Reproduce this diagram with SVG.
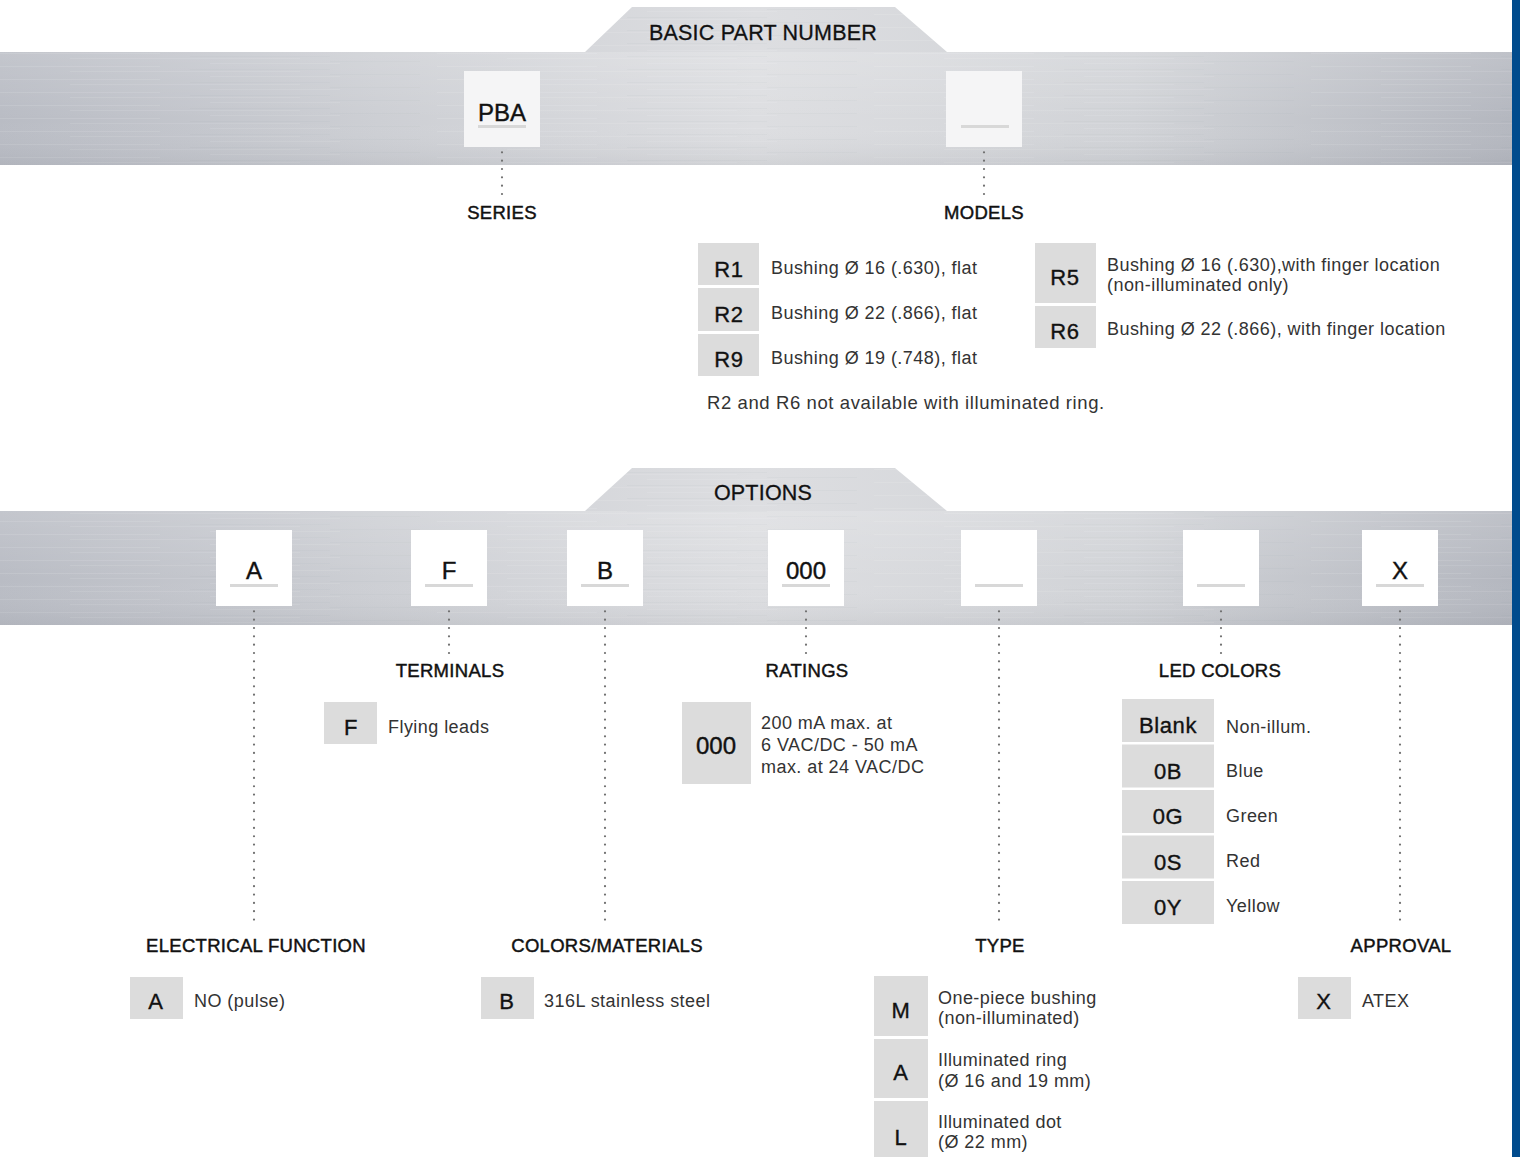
<svg xmlns="http://www.w3.org/2000/svg" width="1520" height="1157" viewBox="0 0 1520 1157">
<defs>
<linearGradient id="metal" gradientUnits="userSpaceOnUse" x1="0" y1="0" x2="1512" y2="0">
<stop offset="0" stop-color="#b9bcc4"/>
<stop offset="0.25" stop-color="#cdcfd4"/>
<stop offset="0.5" stop-color="#dddee1"/>
<stop offset="0.75" stop-color="#d1d3d7"/>
<stop offset="1" stop-color="#b4b7bf"/>
</linearGradient>
<linearGradient id="shadeV" x1="0" y1="0" x2="0" y2="1">
<stop offset="0" stop-color="#ffffff" stop-opacity="0.15"/>
<stop offset="0.6" stop-color="#ffffff" stop-opacity="0"/>
<stop offset="1" stop-color="#6a6e78" stop-opacity="0.10"/>
</linearGradient>
<pattern id="brush" patternUnits="userSpaceOnUse" width="437" height="13">
<rect x="0" y="1" width="160" height="1" fill="#ffffff" opacity="0.10"/>
<rect x="190" y="4" width="140" height="1" fill="#8a8e98" opacity="0.06"/>
<rect x="70" y="6" width="230" height="1" fill="#ffffff" opacity="0.09"/>
<rect x="330" y="9" width="90" height="1" fill="#8a8e98" opacity="0.06"/>
<rect x="210" y="11" width="130" height="1" fill="#ffffff" opacity="0.09"/>
</pattern>
</defs>
<style>
text{font-family:"Liberation Sans",Arial,sans-serif}
.hdr{font-size:21.5px;fill:#111;stroke:#111;stroke-width:0.3px;text-anchor:middle;letter-spacing:0.2px}
.lbl{font-size:18.5px;fill:#111;stroke:#111;stroke-width:0.45px;text-anchor:middle;letter-spacing:0.3px}
.val{font-size:24px;fill:#111;stroke:#111;stroke-width:0.4px;text-anchor:middle}
.code{font-size:22px;fill:#111;stroke:#111;stroke-width:0.35px;text-anchor:middle;letter-spacing:0.6px}
.desc{font-size:18px;fill:#333;letter-spacing:0.45px}
.note{font-size:18.5px;fill:#333;letter-spacing:0.6px}
.box{fill:#ffffff}
.boxt{fill:#f5f5f6}
.cbox{fill:#dcdcdc}
.ul{fill:#d8d8d8}
.dot{stroke:#707070;stroke-width:2.2;stroke-linecap:round;stroke-dasharray:0 8.33;fill:none}
</style>
<rect width="1520" height="1157" fill="#ffffff"/>
<g id="band-basic">
<path d="M0,52 H585 L632,7 H895 L947,52 H1512 V165 H0 Z" fill="url(#metal)"/>
<path d="M0,52 H585 L632,7 H895 L947,52 H1512 V165 H0 Z" fill="url(#brush)"/>
<rect x="0" y="52" width="1512" height="113" fill="url(#shadeV)"/>
<text class="hdr" x="763" y="40">BASIC PART NUMBER</text>
</g>
<g id="band-options">
<path d="M0,511 H585 L632,468 H895 L947,511 H1512 V625 H0 Z" fill="url(#metal)"/>
<path d="M0,511 H585 L632,468 H895 L947,511 H1512 V625 H0 Z" fill="url(#brush)"/>
<rect x="0" y="511" width="1512" height="114" fill="url(#shadeV)"/>
<text class="hdr" x="763" y="500">OPTIONS</text>
</g>
<rect id="side-bar" x="1512" y="0" width="8" height="1157" fill="#004b8d"/>
<g id="connectors">
<line class="dot" x1="502" y1="144" x2="502" y2="194"/>
<line class="dot" x1="984" y1="144" x2="984" y2="194"/>
<line class="dot" x1="254" y1="603" x2="254" y2="925"/>
<line class="dot" x1="449" y1="603" x2="449" y2="653"/>
<line class="dot" x1="605" y1="603" x2="605" y2="925"/>
<line class="dot" x1="806" y1="603" x2="806" y2="653"/>
<line class="dot" x1="999" y1="603" x2="999" y2="925"/>
<line class="dot" x1="1221" y1="603" x2="1221" y2="653"/>
<line class="dot" x1="1400" y1="603" x2="1400" y2="925"/>
</g>
<g id="series">
<rect class="boxt" x="464" y="71" width="76" height="76"/>
<text class="val" x="502" y="121">PBA</text>
<rect class="ul" x="478" y="125" width="48" height="3"/>
<text class="lbl" x="502" y="219">SERIES</text>
</g>
<g id="models">
<rect class="boxt" x="946" y="71" width="76" height="76"/>
<rect class="ul" x="961" y="125" width="48" height="3"/>
<text class="lbl" x="984" y="219">MODELS</text>
<rect class="cbox" x="698" y="243" width="61" height="42"/>
<text class="code" x="729" y="277">R1</text>
<text class="desc" x="771" y="274">Bushing Ø 16 (.630), flat</text>
<rect class="cbox" x="698" y="288" width="61" height="43"/>
<text class="code" x="729" y="322">R2</text>
<text class="desc" x="771" y="319">Bushing Ø 22 (.866), flat</text>
<rect class="cbox" x="698" y="334" width="61" height="42"/>
<text class="code" x="729" y="367">R9</text>
<text class="desc" x="771" y="364">Bushing Ø 19 (.748), flat</text>
<rect class="cbox" x="1035" y="243" width="61" height="60"/>
<text class="code" x="1065" y="285">R5</text>
<text class="desc" x="1107" y="271">Bushing Ø 16 (.630),with finger location</text>
<text class="desc" x="1107" y="291">(non-illuminated only)</text>
<rect class="cbox" x="1035" y="306" width="61" height="42"/>
<text class="code" x="1065" y="339">R6</text>
<text class="desc" x="1107" y="335">Bushing Ø 22 (.866), with finger location</text>
<text class="note" x="707" y="409">R2 and R6 not available with illuminated ring.</text>
</g>
<g id="electrical-function">
<rect class="box" x="216" y="530" width="76" height="76"/>
<text class="val" x="254" y="579">A</text>
<rect class="ul" x="230" y="584" width="48" height="3"/>
<text class="lbl" x="256" y="952">ELECTRICAL FUNCTION</text>
<rect class="cbox" x="130" y="977" width="53" height="42"/>
<text class="code" x="156" y="1009">A</text>
<text class="desc" x="194" y="1007">NO (pulse)</text>
</g>
<g id="terminals">
<rect class="box" x="411" y="530" width="76" height="76"/>
<text class="val" x="449" y="579">F</text>
<rect class="ul" x="425" y="584" width="48" height="3"/>
<text class="lbl" x="450" y="677">TERMINALS</text>
<rect class="cbox" x="324" y="702" width="53" height="42"/>
<text class="code" x="351" y="735">F</text>
<text class="desc" x="388" y="733">Flying leads</text>
</g>
<g id="colors-materials">
<rect class="box" x="567" y="530" width="76" height="76"/>
<text class="val" x="605" y="579">B</text>
<rect class="ul" x="581" y="584" width="48" height="3"/>
<text class="lbl" x="607" y="952">COLORS/MATERIALS</text>
<rect class="cbox" x="481" y="977" width="53" height="42"/>
<text class="code" x="507" y="1009">B</text>
<text class="desc" x="544" y="1007">316L stainless steel</text>
</g>
<g id="ratings">
<rect class="box" x="768" y="530" width="76" height="76"/>
<text class="val" x="806" y="579">000</text>
<rect class="ul" x="782" y="584" width="48" height="3"/>
<text class="lbl" x="807" y="677">RATINGS</text>
<rect class="cbox" x="682" y="702" width="69" height="82"/>
<text class="val" x="716" y="754">000</text>
<text class="desc" x="761" y="729">200 mA max. at</text>
<text class="desc" x="761" y="751">6 VAC/DC - 50 mA</text>
<text class="desc" x="761" y="773">max. at 24 VAC/DC</text>
</g>
<g id="type">
<rect class="box" x="961" y="530" width="76" height="76"/>
<rect class="ul" x="975" y="584" width="48" height="3"/>
<text class="lbl" x="1000" y="952">TYPE</text>
<rect class="cbox" x="874" y="976" width="54" height="60"/>
<text class="code" x="901" y="1018">M</text>
<text class="desc" x="938" y="1004">One-piece bushing</text>
<text class="desc" x="938" y="1024">(non-illuminated)</text>
<rect class="cbox" x="874" y="1039" width="54" height="59"/>
<text class="code" x="901" y="1080">A</text>
<text class="desc" x="938" y="1066">Illuminated ring</text>
<text class="desc" x="938" y="1087">(Ø 16 and 19 mm)</text>
<rect class="cbox" x="874" y="1101" width="54" height="60"/>
<text class="code" x="901" y="1145">L</text>
<text class="desc" x="938" y="1128">Illuminated dot</text>
<text class="desc" x="938" y="1148">(Ø 22 mm)</text>
</g>
<g id="led-colors">
<rect class="box" x="1183" y="530" width="76" height="76"/>
<rect class="ul" x="1197" y="584" width="48" height="3"/>
<text class="lbl" x="1220" y="677">LED COLORS</text>
<rect class="cbox" x="1122" y="699" width="92" height="43"/>
<text class="code" x="1168" y="733">Blank</text>
<text class="desc" x="1226" y="733">Non-illum.</text>
<rect class="cbox" x="1122" y="744.5" width="92" height="43"/>
<text class="code" x="1168" y="779">0B</text>
<text class="desc" x="1226" y="777">Blue</text>
<rect class="cbox" x="1122" y="790" width="92" height="43"/>
<text class="code" x="1168" y="824">0G</text>
<text class="desc" x="1226" y="822">Green</text>
<rect class="cbox" x="1122" y="835.5" width="92" height="43"/>
<text class="code" x="1168" y="870">0S</text>
<text class="desc" x="1226" y="867">Red</text>
<rect class="cbox" x="1122" y="881" width="92" height="43"/>
<text class="code" x="1168" y="915">0Y</text>
<text class="desc" x="1226" y="912">Yellow</text>
</g>
<g id="approval">
<rect class="box" x="1362" y="530" width="76" height="76"/>
<text class="val" x="1400" y="579">X</text>
<rect class="ul" x="1376" y="584" width="48" height="3"/>
<text class="lbl" x="1401" y="952">APPROVAL</text>
<rect class="cbox" x="1298" y="977" width="53" height="42"/>
<text class="code" x="1324" y="1009">X</text>
<text class="desc" x="1362" y="1007">ATEX</text>
</g>
</svg>
